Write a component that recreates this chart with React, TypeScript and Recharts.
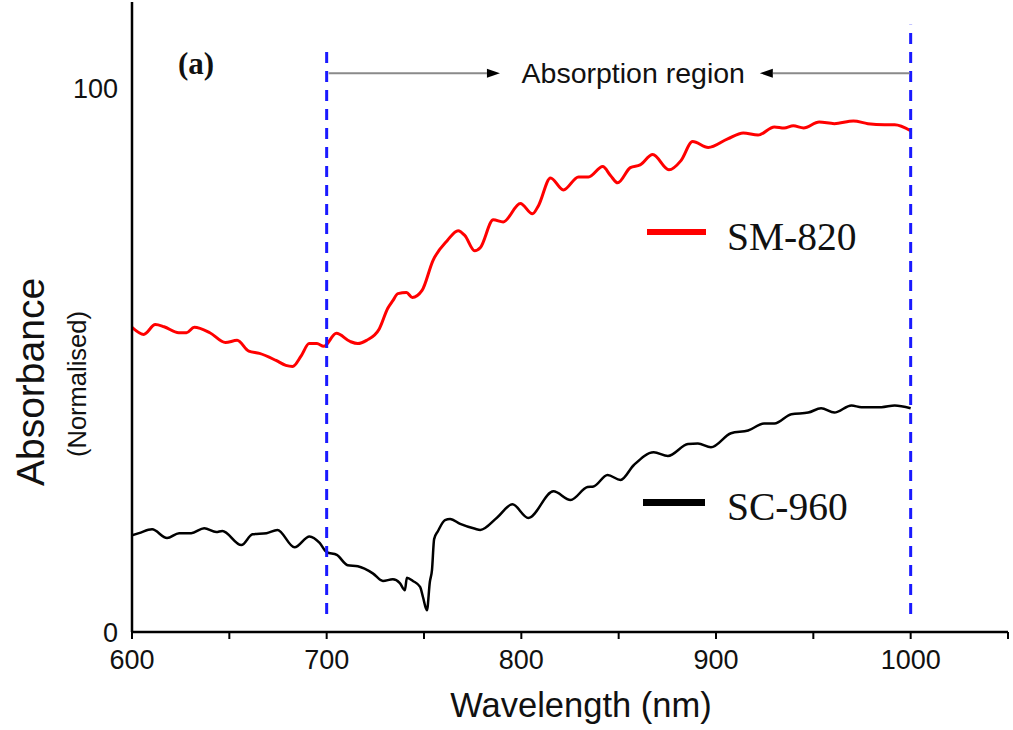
import {
    LineChart,
    Line,
    XAxis,
    YAxis,
    ReferenceLine,
    ReferenceDot,
} from "recharts";

// SM-820 (red)
const smWavelength = [
    600, 606, 612, 616.5, 624, 628, 632, 640, 648, 654, 660, 665.5, 674, 679, 682.5, 687, 691, 695, 698.5,
    705, 712, 716, 720.5, 727, 731.4, 734, 736.6, 741, 744, 749, 754.6, 762, 767.5, 771, 776, 779, 785.6,
    790.7, 799.5, 805.7, 808.8, 815, 821.6, 829.4, 834.5, 841.8, 845.9, 849.5, 856, 861, 867.5, 875.8, 882,
    888, 896, 906, 914, 921.6, 930, 935, 939.7, 945, 953, 960.8, 970.6, 978, 986.6, 991.8, 1000,
];
const smAbsorbance = [
    56.1, 54.8, 56.6, 56.2, 55.1, 55.1, 56.1, 55.1, 53.3, 53.7, 51.7, 51.3, 50.0, 49.1, 48.9, 50.9, 53.1, 53.1, 52.6,
    55.0, 53.5, 53.1, 53.7, 55.8, 59.6, 61.0, 62.3, 62.5, 61.6, 62.9, 68.4, 72.1, 73.9, 73.0, 70.2, 70.8, 75.9,
    75.5, 78.9, 77.0, 78.5, 83.6, 81.4, 83.8, 83.8, 85.7, 84.0, 82.7, 85.5, 86.0, 87.9, 85.1, 86.8,
    90.3, 89.2, 90.8, 91.9, 91.5, 93.0, 92.8, 93.2, 92.8, 93.9, 93.6, 94.1, 93.6, 93.4, 93.4, 92.3,
];

// SC-960 (black)
const scWavelength = [
    600, 603.6, 610.3, 618, 624.2, 630.4, 637.1, 643.3, 646.4, 656.2, 661.9, 669.1, 674.7, 683.5, 691.2, 696.4,
    700, 705.2, 710.8, 716, 723.7, 728.9, 734, 737.6, 740.2, 741.2, 744.3, 748, 749.5, 751.5, 753, 754.1, 755.2,
    757.2, 760.8, 763.4, 768.6, 776.3, 778.9, 787.6, 795.4, 803.6, 816.5, 825.3, 834, 837.1, 844.3, 851, 857.7,
    868, 875.3, 885.6, 890.7, 897.4, 907.7, 916.5, 924.7, 930, 938.7, 947.4, 954, 960.8, 969.6, 974.7, 985,
    991.8, 1000,
];
const scAbsorbance = [
    17.8, 18.2, 18.9, 17.3, 18.2, 18.2, 19.1, 18.4, 18.6, 16.0, 18.0, 18.2, 18.8, 15.6, 17.6, 16.4,
    14.7, 14.2, 12.3, 12.1, 10.8, 9.4, 9.7, 9.0, 7.7, 10.0, 9.4, 8.3, 6.4, 4.0, 9.2, 11.4, 17.1,
    18.6, 20.6, 20.8, 19.9, 19.0, 18.8, 21.1, 23.5, 21.0, 25.9, 24.3, 26.7, 26.8, 28.9, 28.0, 30.7,
    33.1, 32.4, 34.6, 34.7, 34.0, 36.6, 37.1, 38.4, 38.4, 40.1, 40.4, 41.2, 40.4, 41.7, 41.4, 41.4,
    41.7, 41.2,
];

const seriesNames = ["SM-820", "SC-960"];
const seriesColors = ["#ff0000", "#000000"];

const xTicks = [600, 650, 700, 750, 800, 850, 900, 950, 1000, 1050];
const xLabeled = [600, 700, 800, 900, 1000];
const yTicks = [0, 100];

const regionStart = 700;
const regionEnd = 1000;

const smData = smWavelength.map((x, i) => ({ x, y: smAbsorbance[i] }));
const scData = scWavelength.map((x, i) => ({ x, y: scAbsorbance[i] }));

const SANS = "'Liberation Sans', Arial, sans-serif";
const SERIF = "'Liberation Serif', 'Times New Roman', serif";

const XTick = (props) => {
    const { x, y, payload } = props;
    if (!xLabeled.includes(payload.value)) return <g />;
    return (
        <text x={x} y={y} dy={30} textAnchor="middle" fontSize={27} fontFamily={SANS} fill="#111">
            {payload.value}
        </text>
    );
};

const Arrow = (props) => {
    const { x1, y1, x2, y2 } = props;
    const dir = x2 > x1 ? 1 : -1;
    const head = 13;
    return (
        <g>
            <line x1={x1} y1={y1} x2={x2 - dir * head} y2={y2} stroke="#8a8a8a" strokeWidth={2} />
            <polygon
                points={`${x2},${y2} ${x2 - dir * head},${y2 - 4.5} ${x2 - dir * head},${y2 + 4.5}`}
                fill="#000"
            />
        </g>
    );
};

const YTitle = (props) => {
    const { viewBox } = props;
    const cx = viewBox.x + 30;
    const cy = 382;
    return (
        <g>
            <text
                x={cx}
                y={cy}
                transform={`rotate(-90 ${cx} ${cy})`}
                textAnchor="middle"
                dominantBaseline="central"
                fontSize={39}
                fontFamily={SANS}
                fill="#111"
            >
                Absorbance
            </text>
            <text
                x={viewBox.x + 77}
                y={cy + 2}
                transform={`rotate(-90 ${viewBox.x + 77} ${cy + 2})`}
                textAnchor="middle"
                dominantBaseline="central"
                fontSize={25.5}
                fontFamily={SANS}
                fill="#111"
            >
                (Normalised)
            </text>
        </g>
    );
};

const legendPos = [
    { swatchLeft: 647, swatchWidth: 59, y: 232, thick: 6 },
    { swatchLeft: 643, swatchWidth: 62, y: 502, thick: 7 },
];

export default function App() {
    return (
        <div style={{ position: "absolute", left: 0, top: 0, width: 1013, height: 730, background: "#fff" }}>
            <LineChart width={1013} height={730} margin={{ top: 2, right: 5, left: 0, bottom: 0 }}>
                <XAxis
                    dataKey="x"
                    type="number"
                    domain={[600, 1050]}
                    ticks={xTicks}
                    height={98}
                    tick={XTick}
                    tickSize={7}
                    tickMargin={0}
                    tickLine={{ stroke: "#000", strokeWidth: 2 }}
                    axisLine={{ stroke: "#000", strokeWidth: 2.5 }}
                    allowDataOverflow
                    label={{
                        value: "Wavelength (nm)",
                        position: "insideBottom",
                        offset: 13,
                        dx: 11,
                        fontSize: 34.5,
                        fontFamily: SANS,
                        fill: "#111",
                    }}
                />
                <XAxis
                    xAxisId="top"
                    orientation="top"
                    type="number"
                    domain={[600, 1050]}
                    height={0}
                    tick={false}
                    tickLine={false}
                    axisLine={{ stroke: "#000", strokeWidth: 2.5 }}
                />
                <YAxis
                    type="number"
                    domain={[0, 116]}
                    ticks={yTicks}
                    width={132}
                    tickLine={false}
                    tickMargin={8}
                    tick={{ fontSize: 27, fontFamily: SANS, fill: "#111" }}
                    axisLine={{ stroke: "#000", strokeWidth: 2.5 }}
                    allowDataOverflow
                    label={YTitle}
                />
                <YAxis
                    yAxisId="right"
                    orientation="right"
                    type="number"
                    domain={[0, 116]}
                    width={0}
                    tick={false}
                    tickLine={false}
                    axisLine={{ stroke: "#333", strokeWidth: 2.5 }}
                />

                <Line
                    data={smData}
                    dataKey="y"
                    name={seriesNames[0]}
                    type="monotone"
                    stroke={seriesColors[0]}
                    strokeWidth={3}
                    dot={false}
                    isAnimationActive={false}
                />
                <Line
                    data={scData}
                    dataKey="y"
                    name={seriesNames[1]}
                    type="monotone"
                    stroke={seriesColors[1]}
                    strokeWidth={2.5}
                    dot={false}
                    isAnimationActive={false}
                />

                <ReferenceLine
                    segment={[{ x: regionStart, y: 3.3 }, { x: regionStart, y: 106.8 }]}
                    stroke="#1a1aff"
                    strokeWidth={3}
                    strokeDasharray="11 8"
                />
                <ReferenceLine
                    segment={[{ x: regionEnd, y: 3.3 }, { x: regionEnd, y: 111.8 }]}
                    stroke="#1a1aff"
                    strokeWidth={3}
                    strokeDasharray="11 8"
                />
                <ReferenceLine
                    segment={[{ x: 701, y: 102.9 }, { x: 789, y: 102.9 }]}
                    shape={Arrow}
                />
                <ReferenceLine
                    segment={[{ x: 999.5, y: 102.9 }, { x: 922.5, y: 102.9 }]}
                    shape={Arrow}
                />
                <ReferenceDot
                    x={857.5}
                    y={102.9}
                    r={0}
                    stroke="none"
                    fill="none"
                    label={{
                        value: "Absorption region",
                        position: "center",
                        fontSize: 28.5,
                        fontFamily: SANS,
                        fill: "#111",
                    }}
                />
            </LineChart>

            <div
                style={{
                    position: "absolute",
                    left: 178,
                    top: 64 - 16,
                    fontFamily: SERIF,
                    fontWeight: "bold",
                    fontSize: 31,
                    lineHeight: "32px",
                    color: "#111",
                }}
            >
                (a)
            </div>

            {seriesNames.map((name, i) => (
                <div key={name}>
                    <div
                        style={{
                            position: "absolute",
                            left: legendPos[i].swatchLeft,
                            top: legendPos[i].y - legendPos[i].thick / 2,
                            width: legendPos[i].swatchWidth,
                            height: legendPos[i].thick,
                            background: seriesColors[i],
                        }}
                    />
                    <div
                        style={{
                            position: "absolute",
                            left: 727,
                            top: legendPos[i].y + 6 - 20,
                            fontFamily: SERIF,
                            fontSize: 39.5,
                            lineHeight: "39px",
                            color: "#111",
                            whiteSpace: "nowrap",
                        }}
                    >
                        {name}
                    </div>
                </div>
            ))}
        </div>
    );
}
